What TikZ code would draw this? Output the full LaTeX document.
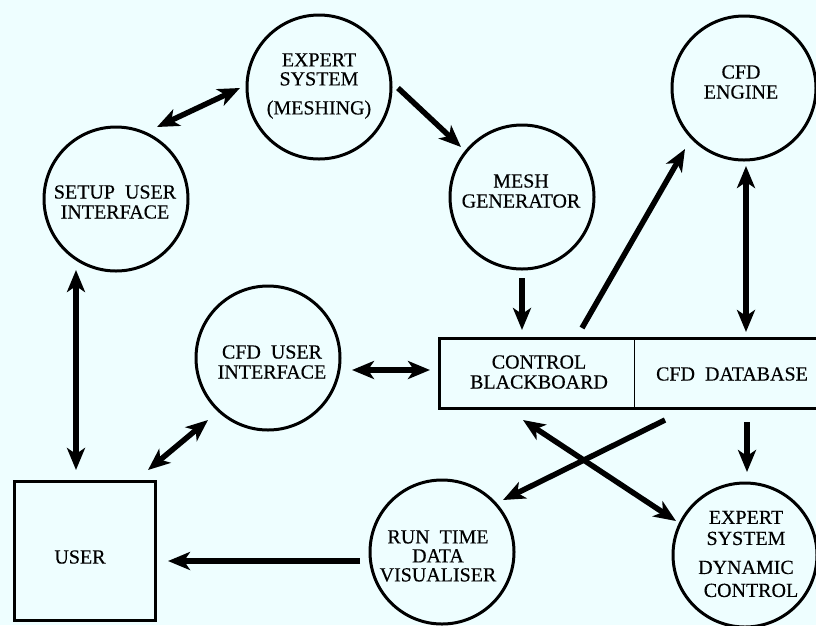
\documentclass[tikz,border=0pt]{standalone}
\usepackage{fontspec}
\setmainfont{Liberation Serif}[UprightFeatures={FakeBold=0.35}]
\usetikzlibrary{arrows.meta}
\definecolor{paper}{RGB}{238,254,255}

\begin{document}
\begin{tikzpicture}[x=1pt,y=-1pt,
  bubble/.style={circle,draw,line width=3pt,minimum size=144pt,inner sep=0pt},
  plainbox/.style={rectangle,inner sep=0pt},
  lbl/.style={align=center,inner sep=0pt,font=\fontsize{20}{20}\selectfont},
  tip/.tip={Stealth[length=22pt,width=18pt,inset=6pt]},
  flow/.style={line width=5.5pt,-tip},
  both/.style={line width=5.5pt,tip-tip},
]
% page and background
\fill[paper] (0,0) rectangle (816,625);
\useasboundingbox (0,0) rectangle (816,625);

% process bubbles
\node[bubble] (es) at (319,87) {};
\node[bubble] (su) at (116,199) {};
\node[bubble] (mg) at (522,197) {};
\node[bubble] (ce) at (744,88) {};
\node[bubble] (cu) at (268,358) {};
\node[bubble] (rt) at (442,552) {};
\node[bubble] (ed) at (745,555) {};

% bubble labels
\node[lbl] (es-t) at (319,86) {EXPERT\\[-1pt]SYSTEM\\[9pt](MESHING)};
\node[lbl] (su-t) at (115,202) {SETUP\ \ USER\\INTERFACE};
\node[lbl] (mg-t) at (521,191) {MESH\\GENERATOR};
\node[lbl] (ce-t) at (741,82) {CFD\\ENGINE};
\node[lbl] (cu-t) at (272,362) {CFD\ \ USER\\INTERFACE};
\node[lbl,font=\fontsize{20}{19}\selectfont] (rt-t) at (438,556) {RUN\ \ TIME\\DATA\\VISUALISER};
\node[lbl,font=\fontsize{20}{21}\selectfont] (ed-t) at (746,554) {EXPERT\\SYSTEM\\[8pt]DYNAMIC\\[2pt]\ \ CONTROL};

% user terminal
\node[plainbox,draw,line width=3pt,minimum width=141pt,minimum height=139pt] (user) at (85,551) {};
\node[lbl] (user-t) at (80,557) {USER};

% blackboard and database store
\node[plainbox,minimum width=194pt,minimum height=70pt] (cb) at (537,373.5) {};
\node[plainbox,minimum width=196pt,minimum height=70pt] (db) at (732,373.5) {};
\draw[line width=3pt] (cb.north west) rectangle (db.south east);
\draw[line width=1pt] (cb.north east) -- (cb.south east);
\node[lbl] (cb-t) at (539,372) {CONTROL\\BLACKBOARD};
\node[lbl] (db-t) at (732,374) {CFD\ \ DATABASE};

% connectors
\draw[both] ([shift={(41,-72)}]su.center) -- ([shift={(-79,1)}]es.center);
\draw[flow] ([shift={(79,1)}]es.center) -- ([shift={(-61,-50)}]mg.center);
\draw[flow] ([shift={(0,81)}]mg.center) -- ([shift={(-15,-43.5)}]cb.center);
\draw[flow] ([shift={(45,-45.5)}]cb.center) -- ([shift={(-59,61)}]ce.center);
\draw[both] ([shift={(2,78)}]ce.center) -- ([shift={(14,-41.5)}]db.center);
\draw[both] ([shift={(-40,71)}]su.center) -- ([shift={(-9,-81)}]user.center);
\draw[both] ([shift={(-60,62)}]cu.center) -- ([shift={(63,-81)}]user.center);
\draw[both] ([shift={(84,12)}]cu.center) -- ([shift={(-107,-3.5)}]cb.center);
\draw[flow] ([shift={(-67,46.5)}]db.center) -- ([shift={(61,-52)}]rt.center);
\draw[both] ([shift={(-14,46.5)}]cb.center) -- ([shift={(-69,-34)}]ed.center);
\draw[flow] ([shift={(15,48.5)}]db.center) -- ([shift={(2,-83)}]ed.center);
\draw[flow] ([shift={(-82,9)}]rt.center) -- ([shift={(83,10)}]user.center);
\end{tikzpicture}
\end{document}
